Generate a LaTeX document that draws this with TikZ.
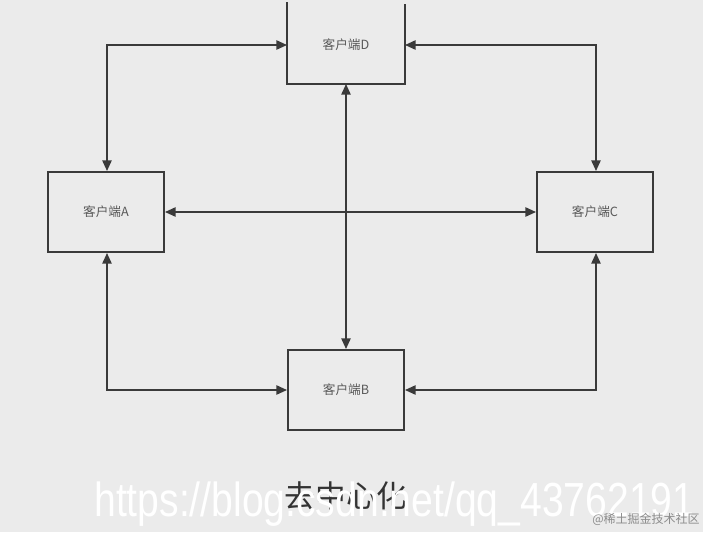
\documentclass[tikz,border=0pt]{standalone}
\usepackage{fontspec}
\usepackage{graphicx}
\setmainfont{Liberation Sans}
\newfontfamily\cjk{Noto Sans CJK SC}
\usetikzlibrary{arrows.meta}
\definecolor{bg}{HTML}{EBEBEB}
\definecolor{ln}{HTML}{3A3A3A}
\begin{document}
\begin{tikzpicture}[x=0.75pt,y=-0.75pt,
  box/.style={draw=ln,line width=1.5pt,minimum width=116*0.75pt,minimum height=80*0.75pt,inner sep=0pt,font=\cjk\fontsize{9.5}{10}\selectfont,text=black!65},
  conn/.style={draw=ln,line width=1.2pt,{Triangle[length=8pt,width=7pt]}-{Triangle[length=8pt,width=7pt]}}]
\fill[bg] (0,0) rectangle (703,532);
\useasboundingbox (0,0) rectangle (703,532);
\node[box] (A) at (106,212) {客户端A};
\node[box] (C) at (595,212) {客户端C};
\node[box] (B) at (346,390) {客户端B};
\node[box,draw=none,minimum height=90*0.75pt] (D) at (346,38) {};
\node[font=\cjk\fontsize{9.5}{10}\selectfont,text=black!65] at (346,45) {客户端D};
\draw[ln,line width=1.5pt] (D.north west)++(0,10) |- (D.south east) -- ++(0,-80);
\coordinate (a1) at (107,45);
\coordinate (c1) at (596,45);
\coordinate (a2) at (107,390);
\coordinate (c2) at (596,390);
\draw[conn] (A.north -| a1) |- (D.west |- 0,45);
\draw[conn] (D.east |- 0,45) -| (C.north -| c1);
\draw[conn] (A.south -| a2) |- (B.west);
\draw[conn] (C.south -| c2) |- (B.east);
\draw[conn] (A.east) -- (C.west);
\draw[conn] (D.south) -- (B.north);
\node[font=\cjk\fontsize{23}{24}\selectfont,text=black!80] (t) at (346,496) {去中心化};
\node[text=white,anchor=base west,inner sep=0pt] (w) at (94,516) {\resizebox{450pt}{26pt}{https://blog.csdn.net/qq\_43762191}};
\node[font=\cjk\fontsize{9}{10}\selectfont,text=black!45,anchor=east,inner sep=0pt] (w2) at (700,519) {@稀土掘金技术社区};
\end{tikzpicture}
\end{document}
